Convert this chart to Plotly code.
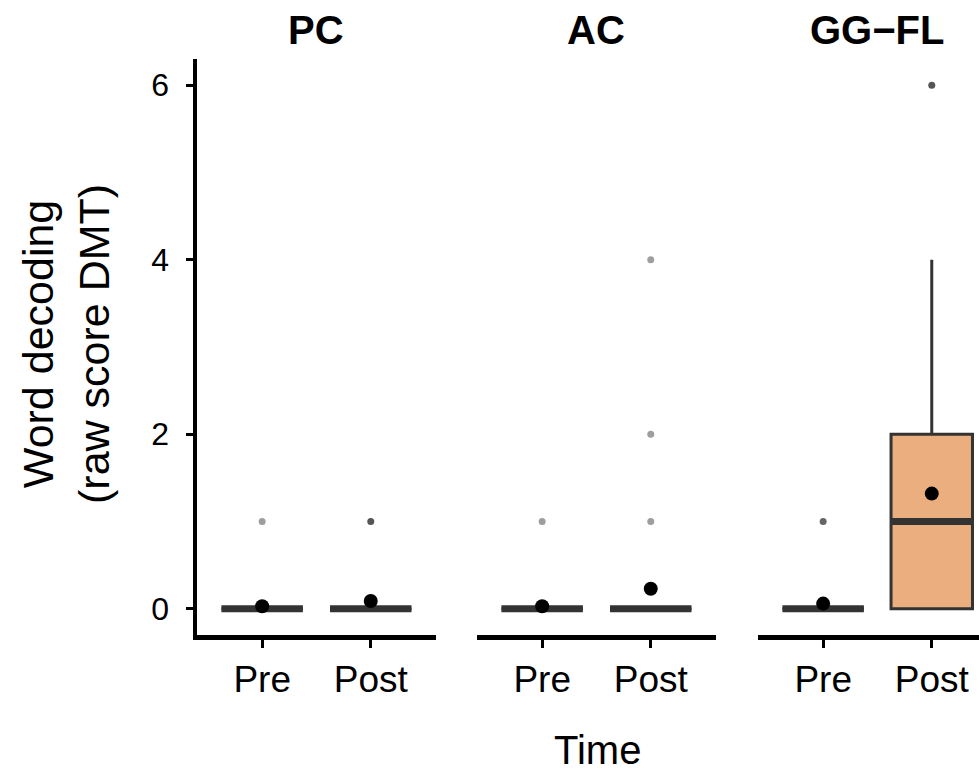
import plotly.graph_objects as go

# ---- data ----
panels = ["PC", "AC", "GG\u2212FL"]
times = ["Pre", "Post"]
time_pos = [1, 2]

# per panel, per time: box statistics
q1 = [[0, 0], [0, 0], [0, 0]]
median = [[0, 0], [0, 0], [0, 1]]
q3 = [[0, 0], [0, 0], [0, 2]]
lower_whisker = [[0, 0], [0, 0], [0, 0]]
upper_whisker = [[0, 0], [0, 0], [0, 4]]
means = [[0.03, 0.09], [0.03, 0.23], [0.06, 1.32]]
outliers = [[[1], [1]], [[1], [1, 2, 4]], [[1], [6]]]

y_ticks = [0, 2, 4, 6]

# ---- styles ----
FONT = "Liberation Sans, Arial, sans-serif"
box_line = "#333333"
fill_colors = [["#FFFFFF", "#FFFFFF"], ["#FFFFFF", "#FFFFFF"], ["#FFFFFF", "#EBAE7F"]]
outlier_colors = [["#9E9E9E", "#555555"], ["#9E9E9E", "#9E9E9E"], ["#666666", "#555555"]]
box_w = 0.75

W, H = 979, 773
unit = 108.6
# reference-pixel geometry
ref_left, ref_top, ref_bottom = 197, 59, 635
ml = ref_left
mt = ref_top
mb = H - ref_bottom
mr = 0
plot_w = W - ml - mr
plot_h = H - mt - mb
panel_ref = [(197, 197 + 2.2 * unit), (477, 477 + 2.2 * unit), (758, 979)]
domains = [[(a - ref_left) / plot_w, (b - ref_left) / plot_w] for a, b in panel_ref]
ranges = [[0.4, 2.6], [0.4, 2.6], [0.4, 0.4 + (979 - 758) / unit]]

fig = go.Figure()

for p in range(3):
    xa = "x" if p == 0 else f"x{p+1}"
    ya = "y" if p == 0 else f"y{p+1}"
    for t in range(2):
        pos = time_pos[t]
        fig.add_trace(go.Box(
            x=[pos], q1=[q1[p][t]], median=[median[p][t]], q3=[q3[p][t]],
            lowerfence=[lower_whisker[p][t]], upperfence=[upper_whisker[p][t]],
            width=box_w, whiskerwidth=0, fillcolor=fill_colors[p][t],
            line=dict(color=box_line, width=3), boxpoints=False,
            showlegend=False, hoverinfo="skip", xaxis=xa, yaxis=ya))
        # thick median line (ggplot fatten)
        fig.add_trace(go.Scatter(
            x=[pos - box_w / 2, pos + box_w / 2], y=[median[p][t], median[p][t]],
            mode="lines", line=dict(color=box_line, width=7),
            showlegend=False, hoverinfo="skip", xaxis=xa, yaxis=ya))
        # outliers
        fig.add_trace(go.Scatter(
            x=[pos] * len(outliers[p][t]), y=outliers[p][t], mode="markers",
            marker=dict(color=outlier_colors[p][t], size=7, line=dict(width=0)),
            showlegend=False, hoverinfo="skip", xaxis=xa, yaxis=ya))
        # mean dot
        fig.add_trace(go.Scatter(
            x=[pos], y=[means[p][t]], mode="markers",
            marker=dict(color="black", size=14, line=dict(width=0)),
            showlegend=False, hoverinfo="skip", xaxis=xa, yaxis=ya))

layout = dict(
    width=W, height=H,
    margin=dict(l=ml, r=mr, t=mt, b=mb),
    paper_bgcolor="white", plot_bgcolor="white",
    font=dict(family=FONT, color="black"),
    showlegend=False,
)
for p in range(3):
    xk = "xaxis" if p == 0 else f"xaxis{p+1}"
    yk = "yaxis" if p == 0 else f"yaxis{p+1}"
    layout[xk] = dict(
        domain=domains[p], range=ranges[p], anchor="y" if p == 0 else f"y{p+1}",
        tickmode="array", tickvals=time_pos, ticktext=times,
        showline=True, linecolor="black", linewidth=4.5,
        ticks="outside", ticklen=8, tickwidth=3, tickcolor="black",
        tickfont=dict(size=37, family=FONT, color="black"),
        showgrid=False, zeroline=False, fixedrange=True)
    layout[yk] = dict(
        domain=[0, 1], range=[-0.3, 6.3], anchor="x" if p == 0 else f"x{p+1}",
        showgrid=False, zeroline=False, fixedrange=True,
        tickmode="array", tickvals=y_ticks,
        showline=(p == 0), linecolor="black", linewidth=4.5,
        ticks="outside" if p == 0 else "", ticklen=7, tickwidth=3, tickcolor="black",
        showticklabels=(p == 0), ticklabelstandoff=10,
        tickfont=dict(size=32, family=FONT, color="black"))
fig.update_layout(**layout)

def px_x(px):
    return (px - ref_left) / plot_w
def px_y(py):
    return (ref_bottom - py) / plot_h

annotations = []
title_centers = [197 + 1.1 * unit, 477 + 1.1 * unit, 758 + 1.1 * unit]
for p in range(3):
    annotations.append(dict(
        text=f"<b>{panels[p]}</b>", x=px_x(title_centers[p]), y=px_y(30),
        xref="paper", yref="paper", xanchor="center", yanchor="middle",
        showarrow=False, font=dict(size=40, family=FONT, color="black")))
annotations.append(dict(
    text="Time", x=px_x(597), y=px_y(750), xref="paper", yref="paper",
    xanchor="center", yanchor="middle", showarrow=False,
    font=dict(size=40, family=FONT, color="black")))
annotations.append(dict(
    text="Word decoding<br>(raw score DMT)", x=px_x(66), y=px_y(344),
    xref="paper", yref="paper", xanchor="center", yanchor="middle",
    textangle=-90, showarrow=False,
    font=dict(size=43, family=FONT, color="black")))
fig.update_layout(annotations=annotations)

fig.write_html("out.html",
               config={"displayModeBar": False, "staticPlot": True},
               post_script="document.body.style.margin='0';document.body.style.overflow='hidden';")
